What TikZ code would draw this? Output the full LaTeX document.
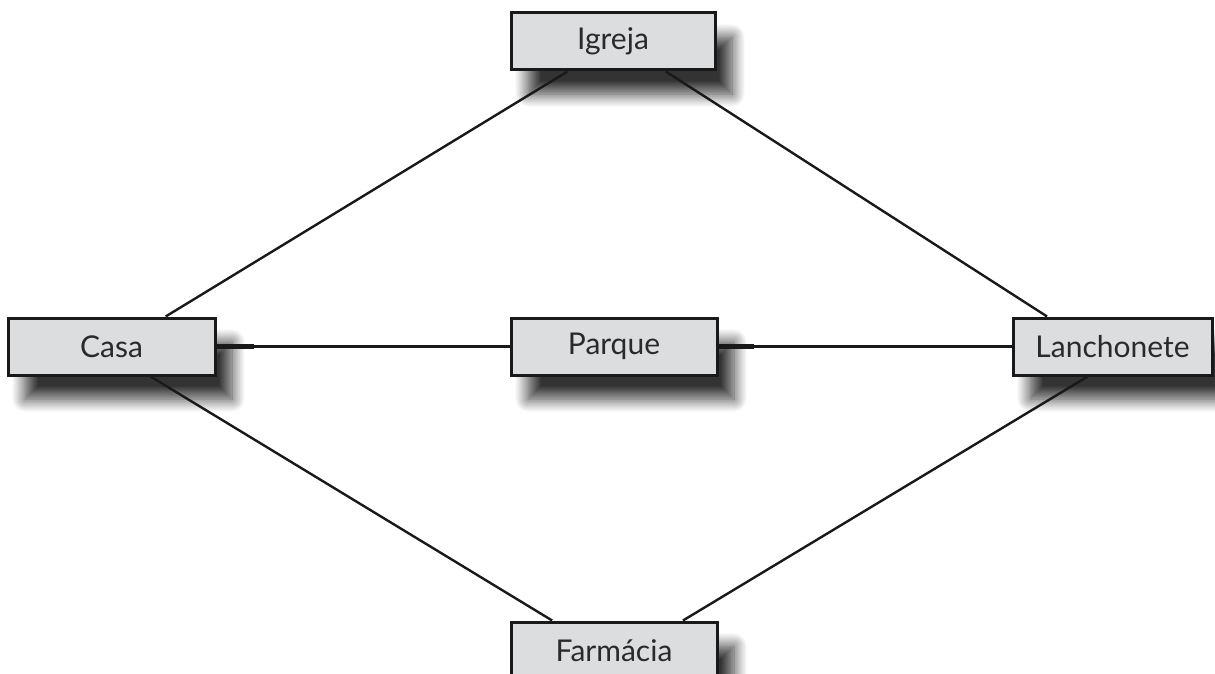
\documentclass[tikz,border=0pt]{standalone}
\usepackage{fontspec}
\setmainfont{Lato}
\usetikzlibrary{shadows.blur,calc}
\definecolor{boxfill}{HTML}{DCDDDF}
\definecolor{txt}{HTML}{2A2A2A}
\tikzset{
  place/.style={draw=black!90, line width=3pt, fill=boxfill, rectangle,
    minimum height=57pt, inner sep=0pt, text=txt,
    font=\fontsize{30}{30}\selectfont,
    blur shadow={shadow xshift=17pt, shadow yshift=-24pt, shadow blur radius=13pt, shadow blur steps=12, shadow opacity=80}},
  link/.style={line width=2.4pt, black!90},
  stub/.style={line width=4.5pt, black!90},
}
\begin{document}
\begin{tikzpicture}[x=1pt,y=-1pt]
\useasboundingbox (0,0) rectangle (1215,674);
\clip (0,0) rectangle (1215,674);
\node[place, minimum width=204pt] (Igreja) at (613,41.5) {Igreja};
\node[place, minimum width=207pt] (Casa) at (111.5,346.5) {Casa};
\node[place, minimum width=206pt] (Parque) at (614,346.5) {Parque};
\node[place, minimum width=199pt] (Lanchonete) at (1112.5,346.5) {Lanchonete};
\node[place, minimum width=206pt] (Farmacia) at (614,650.5) {Farmácia};
% connectors
\draw[link] ($(Casa.north west)!0.758!(Casa.north east)$) -- ($(Igreja.south west)!0.28!(Igreja.south east)$);
\draw[link] ($(Igreja.south west)!0.755!(Igreja.south east)$) -- ($(Lanchonete.north west)!0.176!(Lanchonete.north east)$);
\draw[link] ($(Casa.south west)!0.686!(Casa.south east)$) -- ($(Farmacia.north west)!0.204!(Farmacia.north east)$);
\draw[link] ($(Lanchonete.south west)!0.377!(Lanchonete.south east)$) -- ($(Farmacia.north west)!0.83!(Farmacia.north east)$);
\draw[link] (Casa.east) -- (Parque.west);
\draw[link] (Parque.east) -- (Lanchonete.west);
\draw[stub] (Casa.east) -- ++(37,0);
\draw[stub] (Parque.east) -- ++(35,0);
\end{tikzpicture}
\end{document}
